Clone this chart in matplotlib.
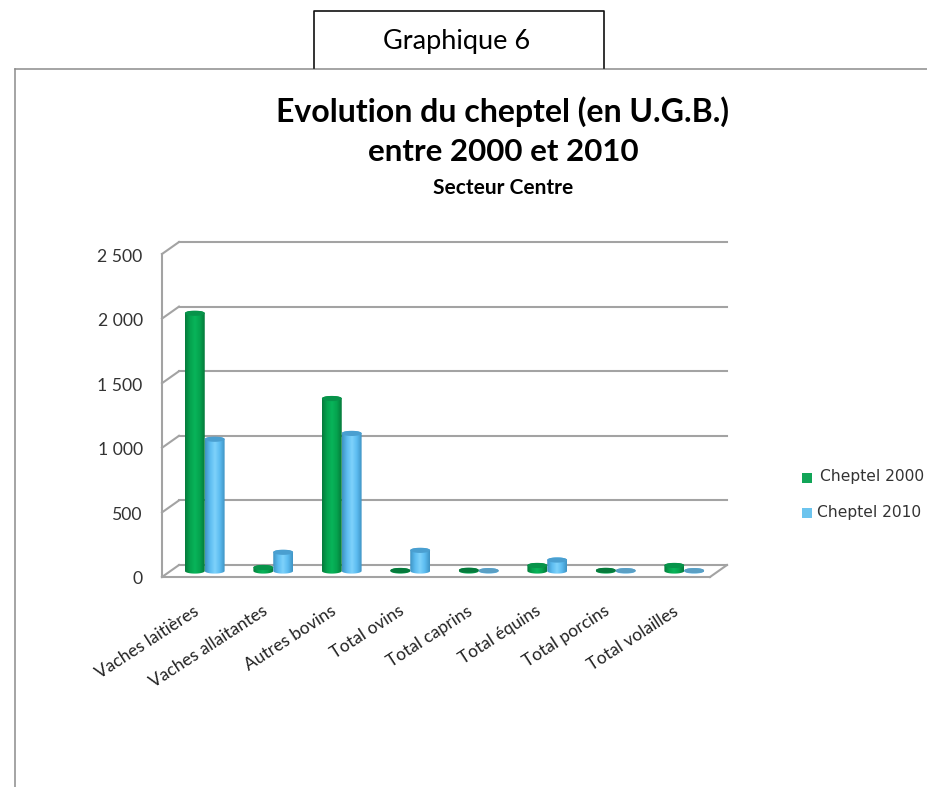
import numpy as np
import matplotlib
matplotlib.use("Agg")
import matplotlib.pyplot as plt
from matplotlib.colors import LinearSegmentedColormap
from matplotlib.patches import Polygon, Rectangle
from matplotlib.transforms import ScaledTranslation, offset_copy

W, H = 928, 787

categories = ["Vaches laitières", "Vaches allaitantes", "Autres bovins", "Total ovins",
              "Total caprins", "Total équins", "Total porcins", "Total volailles"]
cheptel_2000 = [1995, 27, 1335, 4, 6, 43, 5, 43]
cheptel_2010 = [1020, 145, 1065, 160, 3, 85, 3, 3]
y_ticks = [0, 500, 1000, 1500, 2000, 2500]
y_labels = ["0", "500", "1 000", "1 500", "2 000", "2 500"]

GREEN = ["#067a3c", "#05a34e", "#08b45a", "#05a34e", "#05793b"]
BLUE = ["#3f93c4", "#5cbcf0", "#7ed2fb", "#5cbcf0", "#3f93c4"]


def cylinder(ax, x, value, width, colors, top_color):
    # body with a horizontal gradient, clipped to the rounded outline
    ry = ax.get_ylim()[1] / 323 * 2.6
    t = np.linspace(np.pi, 2 * np.pi, 30)
    bottom = np.c_[x + width / 2 * np.cos(t), ry * np.sin(t)]
    top = np.c_[x + width / 2 * np.cos(t[::-1]), value - ry * np.sin(t[::-1])]
    outline = Polygon(np.r_[bottom, top], closed=True, transform=ax.transData, fc="none", ec="none", clip_on=False)
    ax.add_patch(outline)
    cmap = LinearSegmentedColormap.from_list("cyl", colors)
    img = ax.imshow(np.linspace(0, 1, 64).reshape(1, -1), cmap=cmap, aspect="auto", zorder=3,
                    extent=(x - width / 2, x + width / 2, -ry, value + ry))
    # images stop at the axes box otherwise, which cuts the round bottom off
    img.set_clip_box(ax.figure.bbox)
    img.set_clip_path(outline)
    cap_t = np.linspace(0, 2 * np.pi, 50)
    ax.add_patch(Polygon(np.c_[x + width / 2 * np.cos(cap_t), value + ry * np.sin(cap_t)], closed=True,
                         fc=top_color, ec="none", zorder=4, clip_on=False))


fig = plt.figure(figsize=(W / 100, H / 100), dpi=100, facecolor="white")

# page furniture in pixel coordinates
page = fig.add_axes([0, 0, 1, 1])
page.set_xlim(0, W)
page.set_ylim(H, 0)
page.axis("off")
page.plot([15, W], [69, 69], color="#8c8c8c", lw=1.1)
page.plot([15, 15], [69, H], color="#8c8c8c", lw=1.1)
page.plot([314.5, 314.5, 604.5, 604.5], [68, 11, 11, 68], color="#111111", lw=1.2)
page.text(457, 41, "Graphique 6", ha="center", va="center", fontsize=19.5, family="Lato")
page.text(503, 112, "Evolution du cheptel (en U.G.B.)", ha="center", va="center", fontsize=23,
          family="Lato", weight="bold")
page.text(503, 152, "entre 2000 et 2010", ha="center", va="center", fontsize=22.5, family="Lato", weight="bold")
page.text(503, 188, "Secteur Centre", ha="center", va="center", fontsize=15, family="Lato", weight="bold")

page.add_patch(Rectangle((802, 473), 10, 10, fc="#12a558", ec="none"))
page.add_patch(Rectangle((802, 508), 10, 10, fc="#6cc4ee", ec="none"))
page.text(820, 477, "Cheptel 2000", va="center", fontsize=11.2, color="#333333")
page.text(817, 513, "Cheptel 2010", va="center", fontsize=11.2, color="#333333")

# plot area: mid depth of the fake 3D box
ax = fig.add_axes([170.5 / W, 1 - 571 / H, 548 / W, 323 / H], facecolor="none")
ax.set_xlim(-0.5, 7.5)
ax.set_ylim(0, 2500)
for side in ax.spines.values():
    side.set_visible(False)

back = offset_copy(ax.transData, fig, x=8.5, y=6, units="dots")
front = offset_copy(ax.transData, fig, x=-8.5, y=-6, units="dots")
grid = "#a3a3a3"
for v in y_ticks:
    ax.plot([-0.5, 7.5], [v, v], color=grid, lw=1.5, transform=back, clip_on=False, zorder=1)
    p0 = front.transform((-0.5, v))
    p1 = back.transform((-0.5, v))
    ax.plot([p0[0], p1[0]], [p0[1], p1[1]], color=grid, lw=1.5, transform=None, clip_on=False, zorder=1)
ax.plot([-0.5, -0.5], [0, 2500], color=grid, lw=1.5, transform=front, clip_on=False, zorder=1)
ax.plot([-0.5, 7.5], [0, 0], color=grid, lw=1.5, transform=front, clip_on=False, zorder=1)
p0 = front.transform((7.5, 0))
p1 = back.transform((7.5, 0))
ax.plot([p0[0], p1[0]], [p0[1], p1[1]], color=grid, lw=1.5, transform=None, clip_on=False, zorder=1)

bar_w = 0.29
for i, (a, b) in enumerate(zip(cheptel_2000, cheptel_2010)):
    cylinder(ax, i - bar_w / 2, a, bar_w, GREEN, "#07934a" if a > 10 else "#067a3c")
    cylinder(ax, i + bar_w / 2, b, bar_w, BLUE, "#4a9fd0" if b > 20 else "#5a9fc4")
ax.set_xlim(-0.5, 7.5)
ax.set_ylim(0, 2500)

ax.set_yticks(y_ticks, y_labels)
ax.set_xticks(range(len(categories)), categories)
ax.tick_params(axis="both", length=0)
ax.tick_params(axis="y", pad=20, labelsize=12.7, labelcolor="#333333")
ax.tick_params(axis="x", pad=23, labelsize=12.5, labelcolor="#222222")
for lab in ax.get_yticklabels():
    lab.set_family("Lato")
    lab.set_transform(lab.get_transform() + ScaledTranslation(0, -7 / 100, fig.dpi_scale_trans))
for lab in ax.get_xticklabels():
    lab.set_rotation(33)
    lab.set_ha("right")
    lab.set_rotation_mode("anchor")
    lab.set_family("Lato")
    lab.set_transform(lab.get_transform() + ScaledTranslation(-12 / 100, 0, fig.dpi_scale_trans))

fig.savefig("out.png", dpi=100)
